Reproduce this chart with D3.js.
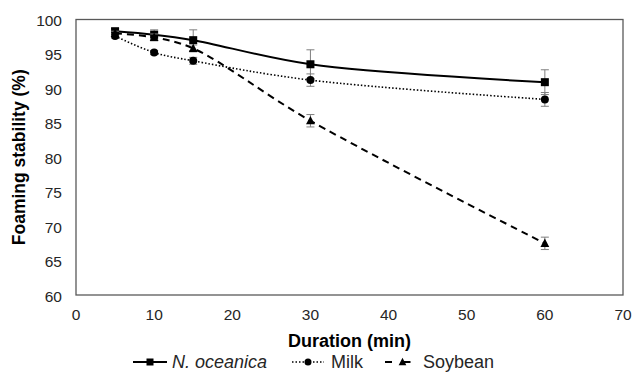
<!DOCTYPE html>
<html>
<head>
<meta charset="utf-8">
<script src="https://cdn.jsdelivr.net/npm/d3@7"></script>
<style>
  body { margin: 0; background: #fff; }
  svg { font-family: "Liberation Sans", Arial, sans-serif; }
</style>
</head>
<body>
<svg id="chart" width="633" height="373"></svg>
<script>
const durations = [5, 10, 15, 30, 60];
const oceanica = [98.3, 97.8, 97.0, 93.5, 90.9];
const oceanicaErr = [0.4, 0.7, 1.5, 2.1, 1.8];
const milk = [97.6, 95.2, 94.0, 91.2, 88.4];
const milkErr = [0.3, 0.3, 0.5, 0.9, 1.0];
const soybean = [98.0, 97.4, 95.8, 85.3, 67.5];
const soybeanErr = [0.3, 0.5, 0.5, 0.9, 0.9];
const xTicks = [0, 10, 20, 30, 40, 50, 60, 70];
const yTicks = [60, 65, 70, 75, 80, 85, 90, 95, 100];

const svg = d3.select("#chart");
const plotLeft = 76, plotRight = 623, plotTop = 19.5, plotBottom = 295;

const x = d3.scaleLinear().domain([0, 70]).range([plotLeft, plotRight]);
const y = d3.scaleLinear().domain([60, 100]).range([plotBottom, plotTop]);

// plot border
svg.append("rect")
  .attr("x", plotLeft).attr("y", plotTop)
  .attr("width", plotRight - plotLeft).attr("height", plotBottom - plotTop)
  .attr("fill", "none").attr("stroke", "#595959").attr("stroke-width", 1.3);

// tick labels
svg.append("g")
  .selectAll("text")
  .data(yTicks)
  .enter()
  .append("text")
  .attr("x", plotLeft - 14)
  .attr("y", (d) => y(d) + 6.5)
  .attr("text-anchor", "end")
  .attr("font-size", 15.5)
  .attr("fill", "#262626")
  .text((d) => d);

svg.append("g")
  .selectAll("text")
  .data(xTicks)
  .enter()
  .append("text")
  .attr("x", (d) => x(d))
  .attr("y", plotBottom + 25)
  .attr("text-anchor", "middle")
  .attr("font-size", 15.5)
  .attr("fill", "#262626")
  .text((d) => d);

// axis titles
svg.append("text")
  .attr("x", (plotLeft + plotRight) / 2)
  .attr("y", 347)
  .attr("text-anchor", "middle")
  .attr("font-size", 18)
  .attr("font-weight", "bold")
  .text("Duration (min)");

svg.append("text")
  .attr("transform", `translate(25, ${(plotTop + plotBottom) / 2}) rotate(-90)`)
  .attr("text-anchor", "middle")
  .attr("font-size", 17.5)
  .attr("font-weight", "bold")
  .text("Foaming stability (%)");

const series = [
  { name: "N. oceanica", values: oceanica, err: oceanicaErr, dash: null, width: 2, marker: "square" },
  { name: "Milk", values: milk, err: milkErr, dash: "1.5,2", width: 1.6, marker: "circle" },
  { name: "Soybean", values: soybean, err: soybeanErr, dash: "7,5", width: 2, marker: "triangle" },
];

const line = d3.line()
  .x((d) => x(d[0]))
  .y((d) => y(d[1]))
  .curve(d3.curveCatmullRom.alpha(0.5));

function drawMarker(g, type, cx, cy, s) {
  if (type == "square") {
    g.append("rect").attr("x", cx - s).attr("y", cy - s)
      .attr("width", 2 * s).attr("height", 2 * s).attr("fill", "#000");
  } else if (type == "circle") {
    g.append("circle").attr("cx", cx).attr("cy", cy).attr("r", s).attr("fill", "#000");
  } else {
    g.append("path")
      .attr("d", `M${cx},${cy - s * 1.2}L${cx + s * 1.1},${cy + s * 0.9}L${cx - s * 1.1},${cy + s * 0.9}Z`)
      .attr("fill", "#000");
  }
}

series.forEach((s) => {
  const pts = durations.map((d, i) => [d, s.values[i]]);
  const g = svg.append("g");

  // error bars
  pts.forEach((p, i) => {
    const cx = x(p[0]);
    const y1 = y(p[1] + s.err[i]);
    const y2 = y(p[1] - s.err[i]);
    g.append("line").attr("x1", cx).attr("x2", cx).attr("y1", y1).attr("y2", y2)
      .attr("stroke", "#7f7f7f").attr("stroke-width", 1);
    [y1, y2].forEach((yy) => {
      g.append("line").attr("x1", cx - 4).attr("x2", cx + 4).attr("y1", yy).attr("y2", yy)
        .attr("stroke", "#7f7f7f").attr("stroke-width", 1);
    });
  });

  g.append("path")
    .attr("d", line(pts))
    .attr("fill", "none")
    .attr("stroke", "#000")
    .attr("stroke-width", s.width)
    .attr("stroke-dasharray", s.dash);

  pts.forEach((p) => drawMarker(g, s.marker, x(p[0]), y(p[1]), 4));
});

// legend
const legendY = 368;
const legendItems = [
  { x0: 133, x1: 167, tx: 172, s: series[0], italic: true, dash: null },
  { x0: 292, x1: 324, tx: 331, s: series[1], italic: false, dash: "1.5,2" },
  { x0: 385, x1: 420, tx: 423, s: series[2], italic: false, dash: "7,11.5" },
];
legendItems.forEach((it) => {
  const g = svg.append("g");
  g.append("line")
    .attr("x1", it.x0).attr("x2", it.x1)
    .attr("y1", legendY - 6).attr("y2", legendY - 6)
    .attr("stroke", "#000")
    .attr("stroke-width", it.s.width)
    .attr("stroke-dasharray", it.dash);
  drawMarker(g, it.s.marker, (it.x0 + it.x1) / 2, legendY - 6, 3.5);
  g.append("text")
    .attr("x", it.tx)
    .attr("y", legendY)
    .attr("font-size", 18)
    .attr("font-style", it.italic ? "italic" : "normal")
    .attr("fill", "#262626")
    .text(it.s.name);
});
</script>
</body>
</html>
